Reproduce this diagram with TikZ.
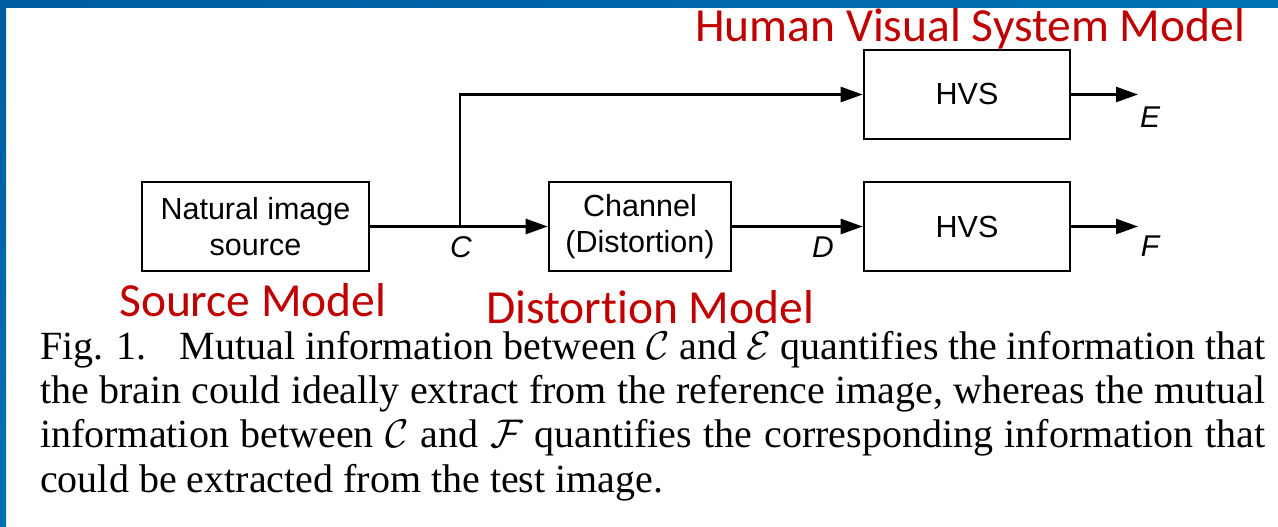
\RequirePackage{fix-cm}
\documentclass[tikz,border=0pt]{standalone}
\usepackage{fontspec}
\setmainfont{Liberation Serif}
\setsansfont{Liberation Sans}
\newfontfamily\notefont[Ligatures=NoCommon]{Carlito}
\usetikzlibrary{arrows.meta}
\definecolor{frameblue}{RGB}{0,92,160}
\definecolor{framebluelight}{RGB}{0,114,180}
\definecolor{notered}{RGB}{192,0,0}
\tikzset{
  blockbox/.style={draw=black, line width=2.6pt, fill=white, align=center,
    font=\sffamily\fontsize{30.5}{36}\selectfont, inner sep=0pt},
  flow/.style={line width=2.6pt, -{Triangle[length=22pt,width=15pt]}},
  sig/.style={font=\sffamily\itshape\fontsize{30}{32}\selectfont, inner sep=0pt},
  modelnote/.style={font=\notefont\fontsize{47.5}{52}\selectfont, text=notered, inner sep=0pt,
    text depth=0pt, anchor=base west},
  capline/.style={font=\fontsize{40}{44}\selectfont, inner sep=0pt, text height=27pt, anchor=base west}
}
\begin{document}
\begin{tikzpicture}[x=1pt, y=-1pt]
\useasboundingbox (0,0) rectangle (1278,527);
\fill[white] (0,0) rectangle (1278,527);
% slide frame
\shade[left color=frameblue, right color=framebluelight] (0,0) rectangle (1278,8);
\shade[top color=frameblue, bottom color=framebluelight] (0,0) rectangle (6,527);

% blocks
\node[blockbox, minimum width=227pt, minimum height=89pt] (src) at (255.5,226.5) {Natural image\\source};
\node[blockbox, minimum width=182pt, minimum height=89pt] (chan) at (640,226.5) {Channel\\(Distortion)};
\node[blockbox, minimum width=206pt, minimum height=89pt] (hvsr) at (967,94.5) {HVS};
\node[blockbox, minimum width=206pt, minimum height=89pt] (hvst) at (967,226.5) {HVS};

% connectors
\coordinate (br) at (460,226.5);
\coordinate (outE) at (1138,94.5);
\coordinate (outF) at (1138,226.5);
\draw[flow] (src.east) -- (chan.west);
\draw[flow] (br) |- (hvsr.west);
\draw[flow] (chan.east) -- (hvst.west);
\draw[flow] (hvsr.east) -- (outE);
\draw[flow] (hvst.east) -- (outF);

% signal labels
\node[sig] (lC) at (461,247) {C};
\node[sig] (lD) at (823,247) {D};
\node[sig] (lE) at (1150,117) {E};
\node[sig] (lF) at (1150,246) {F};

% model annotations
\node[modelnote] (nHVS) at (695,42) {Human Visual System Model};
\node[modelnote] (nSrc) at (119,316) {Source Model};
\node[modelnote] (nDist) at (486,323) {Distortion Model};

% caption
\node[capline] (cap1) at (40,359) {\makebox[1225pt][s]{Fig. 1.\hspace{0.5em} Mutual information between $\mathcal{C}$ and $\mathcal{E}$ quantifies the information that}};
\node[capline] (cap2) at (40,403) {\makebox[1225pt][s]{the brain could ideally extract from the reference image, whereas the mutual}};
\node[capline] (cap3) at (40,447) {\makebox[1225pt][s]{information between $\mathcal{C}$ and $\mathcal{F}$ quantifies the corresponding information that}};
\node[capline] (cap4) at (40,492) {could be extracted from the test image.};
\end{tikzpicture}
\end{document}
